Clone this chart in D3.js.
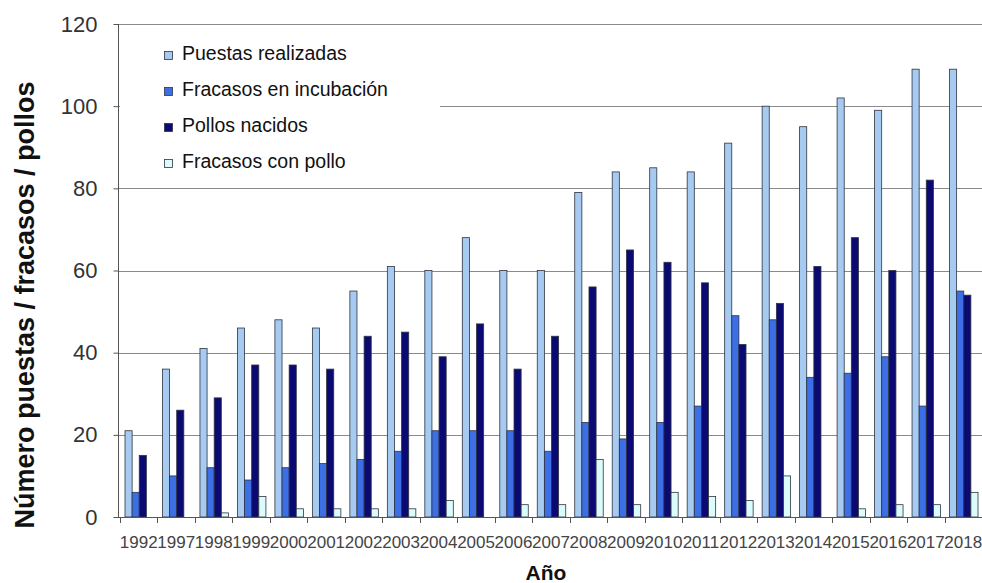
<!DOCTYPE html>
<html>
<head>
<meta charset="utf-8">
<script src="https://cdn.jsdelivr.net/npm/d3@7"></script>
<style>
  html, body { margin: 0; padding: 0; background: #fff; }
  svg { display: block; font-family: Arial, "Liberation Sans", sans-serif; }
</style>
</head>
<body>
<svg id="chart" width="982" height="583"></svg>
<script>
const years = ["1992","1997","1998","1999","2000","2001","2002","2003","2004","2005","2006","2007","2008","2009","2010","2011","2012","2013","2014","2015","2016","2017","2018"];
const seriesNames = ["Puestas realizadas","Fracasos en incubación","Pollos nacidos","Fracasos con pollo"];
const puestas   = [21,36,41,46,48,46,55,61,60,68,60,60,79,84,85,84,91,100,95,102,99,109,109];
const fracasosI = [6,10,12,9,12,13,14,16,21,21,21,16,23,19,23,27,49,48,34,35,39,27,55];
const pollos    = [15,26,29,37,37,36,44,45,39,47,36,44,56,65,62,57,42,52,61,68,60,82,54];
const fracasosP = [0,0,1,5,2,2,2,2,4,0,3,3,14,3,6,5,4,10,0,2,3,3,6];
const yTicks = [0,20,40,60,80,100,120];
const colors = ["#a6caf0","#3c6ee6","#0a0a72","#dcfcfc"];

const seriesValues = [puestas, fracasosI, pollos, fracasosP];
const svg = d3.select("#chart");

const x = d3.scaleBand().domain(years).range([120, 982]).paddingInner(0).paddingOuter(0);
const bw = x.bandwidth();
const xs = d3.scaleBand().domain(d3.range(4)).range([bw * 0.12, bw * 0.88]);
const y = d3.scaleLinear().domain([0, 120]).range([517, 24]);

// gridlines
svg.append("g").selectAll("line").data(yTicks.filter(d => d > 0)).join("line")
  .attr("x1", 118).attr("x2", 982)
  .attr("y1", d => Math.round(y(d)) + 0.5).attr("y2", d => Math.round(y(d)) + 0.5)
  .attr("stroke", "#8a8a8a").attr("stroke-width", 1);

// legend background (covers grid)
svg.append("rect").attr("x", 120).attr("y", 28).attr("width", 320).attr("height", 156).attr("fill", "#fff");

// bars
const data = [];
years.forEach((yr, i) => seriesValues.forEach((s, k) => data.push({yr, k, v: s[i]})));
svg.append("g").selectAll("rect").data(data.filter(d => d.v > 0)).join("rect")
  .attr("x", d => x(d.yr) + xs(d.k) + 0.5)
  .attr("width", xs.bandwidth())
  .attr("y", d => y(d.v))
  .attr("height", d => y(0) - y(d.v))
  .attr("fill", d => colors[d.k])
  .attr("stroke", "#2e3440").attr("stroke-width", 0.8);

// y axis
const yAxis = d3.axisLeft(y).tickValues(yTicks).tickSize(5).tickPadding(16);
const yg = svg.append("g").attr("transform", "translate(118.5,0)").call(yAxis);
yg.select(".domain").attr("stroke", "#555").attr("d", `M-0,${y(120)}V${y(0)}`);
yg.selectAll(".tick line").attr("stroke", "#555");
yg.selectAll(".tick text").attr("font-size", 22).attr("fill", "#333").attr("font-family", "Arial, 'Liberation Sans', sans-serif");

// x axis
const xAxis = d3.axisBottom(x).tickSize(0).tickPadding(0);
const xg = svg.append("g").attr("transform", `translate(0,${y(0) + 0.5})`).call(xAxis);
xg.select(".domain").attr("stroke", "#555").attr("d", "M118,0H982");
xg.selectAll(".tick text").attr("font-size", 17).attr("fill", "#444")
  .attr("dy", null).attr("y", 30).attr("font-family", "Arial, 'Liberation Sans', sans-serif");
// boundary ticks
svg.append("g").selectAll("line").data(years.concat(["end"])).join("line")
  .attr("x1", (d, i) => Math.round(i < years.length ? x(d) : 982) + 0.5)
  .attr("x2", (d, i) => Math.round(i < years.length ? x(d) : 982) + 0.5)
  .attr("y1", y(0)).attr("y2", y(0) + 6)
  .attr("stroke", "#555");

// axis titles
svg.append("text").attr("x", 546).attr("y", 580).attr("text-anchor", "middle")
  .attr("font-size", 21).attr("font-weight", "bold").attr("fill", "#111").text("Año");
svg.append("text").attr("transform", "translate(34,305) rotate(-90)").attr("text-anchor", "middle")
  .attr("font-size", 27).attr("font-weight", "bold").attr("fill", "#111")
  .text("Número puestas / fracasos / pollos");

// legend
const lg = svg.append("g");
const legY = [60, 96, 132, 168];
seriesNames.forEach((n, k) => {
  lg.append("rect").attr("x", 164.5).attr("y", legY[k] - 8.5).attr("width", 8).attr("height", 8)
    .attr("fill", colors[k]).attr("stroke", "#2e3440").attr("stroke-width", 0.8);
  lg.append("text").attr("x", 182).attr("y", legY[k]).attr("font-size", 19.5).attr("fill", "#111").text(n);
});
</script>
</body>
</html>
